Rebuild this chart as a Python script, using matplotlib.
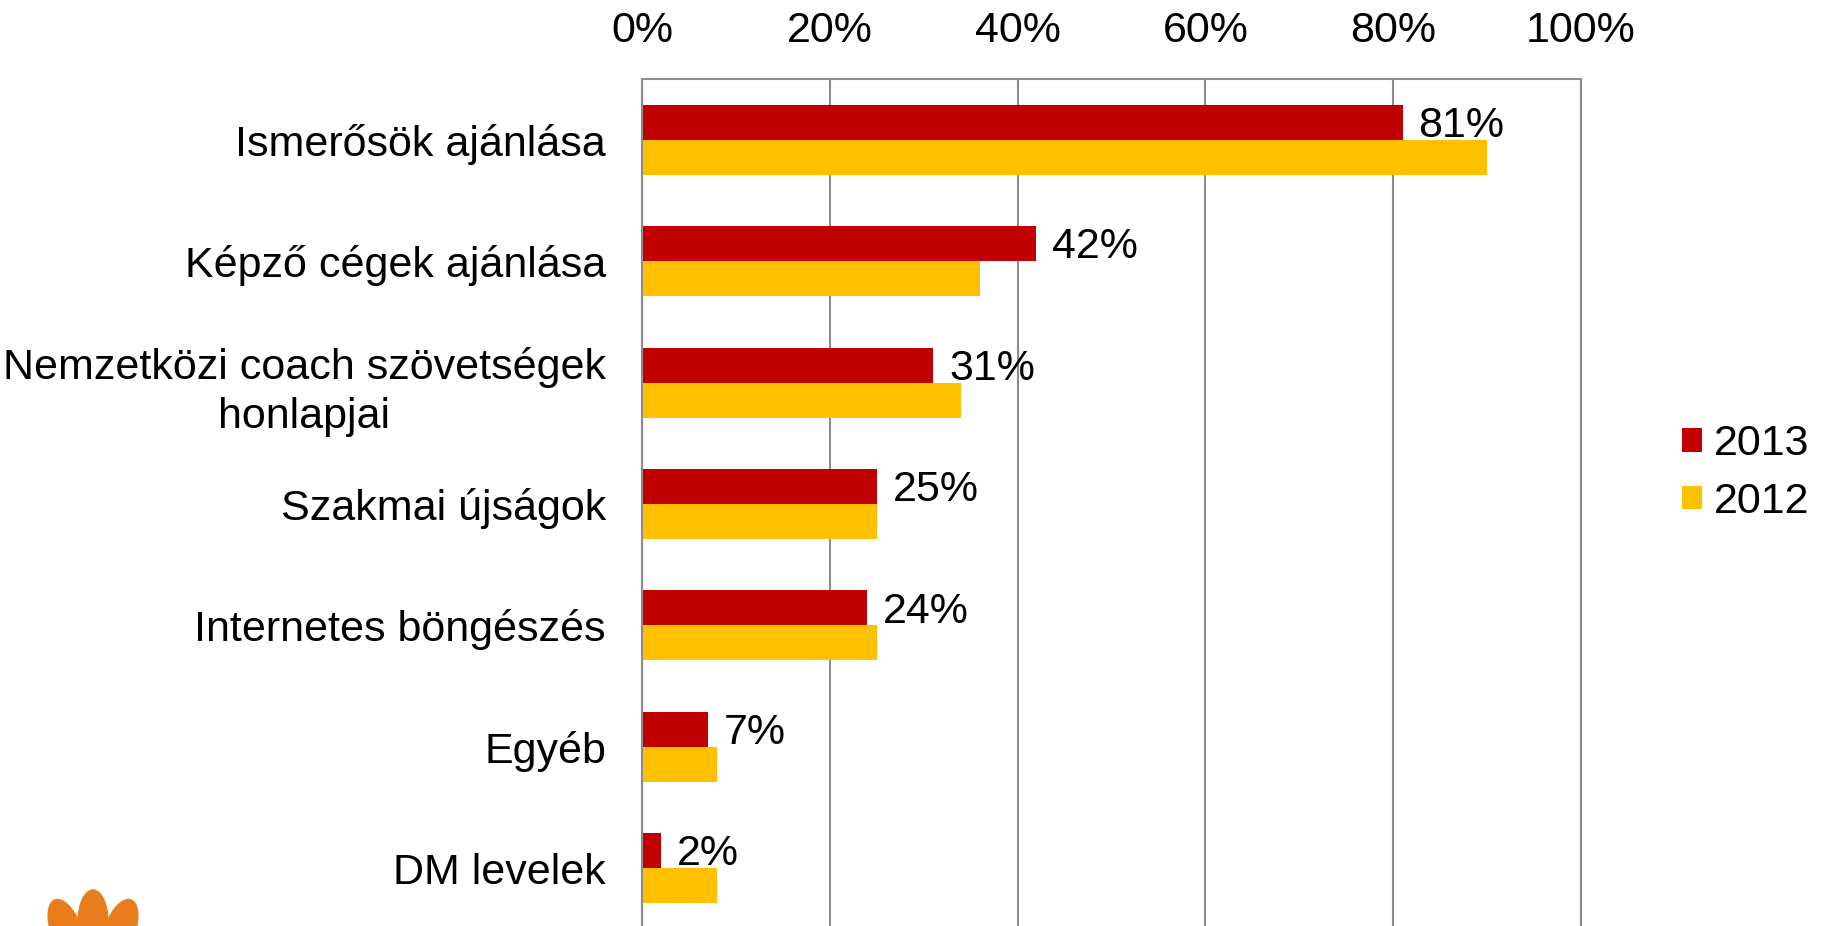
import matplotlib.pyplot as plt
from matplotlib.patches import Ellipse
import numpy as np

plt.rcParams['font.family'] = ['Liberation Sans', 'DejaVu Sans']

# --- data ---
categories = ['Ismerősök ajánlása', 'Képző cégek ajánlása',
              'Nemzetközi coach szövetségek\nhonlapjai', 'Szakmai újságok',
              'Internetes böngészés', 'Egyéb', 'DM levelek']
values_2013 = [81, 42, 31, 25, 24, 7, 2]
values_2012 = [90, 36, 34, 25, 25, 8, 8]
series_names = ['2013', '2012']
x_ticks = [0, 20, 40, 60, 80, 100]

RED = '#C00000'
YELLOW = '#FFC000'
GRID = '#8c8c8c'
FS = 31

W, H = 1825, 926
fig = plt.figure(figsize=(W / 100, H / 100), dpi=100)
ax = fig.add_axes([642 / W, 1 - 929 / H, (1581 - 642) / W, (929 - 79) / H])

y = np.arange(len(categories))
h = 0.288
b13 = ax.barh(y - h / 2, values_2013, height=h, color=RED, label=series_names[0])
b12 = ax.barh(y + h / 2, values_2012, height=h, color=YELLOW, label=series_names[1])

for yi, v in zip(y, values_2013):
    ax.text(v + 1.7, yi - h / 2 + 0.03, f'{v}%', va='center', ha='left', fontsize=FS)

ax.set_xlim(0, 100)
ax.set_ylim(len(categories) - 0.5, -0.5)
ax.set_xticks(x_ticks)
ax.set_xticklabels([f'{t}%' for t in x_ticks])
ax.xaxis.tick_top()
ax.tick_params(axis='x', length=0, pad=20, labelsize=FS)
ax.set_yticks(y)
ax.set_yticklabels(categories, multialignment='center', linespacing=1.3)
ax.tick_params(axis='y', length=0, pad=26, labelsize=FS)

ax.grid(axis='x', color=GRID, linewidth=1.5)
ax.set_axisbelow(True)
for side in ['top', 'left', 'right']:
    ax.spines[side].set_color(GRID)
    ax.spines[side].set_linewidth(1.5)
ax.spines['bottom'].set_visible(False)

fig.legend(handles=[b13, b12], loc='center left', bbox_to_anchor=(1682 / W, 1 - 473 / H),
           frameon=False, fontsize=FS, handlelength=0.46, handleheight=0.46,
           handletextpad=0.27, labelspacing=0.4, borderpad=0, borderaxespad=0)

# logo petals, bottom left
for cx, cy, ang in [(66, 930, 20), (93, 922, 0), (120, 930, -20)]:
    fig.add_artist(Ellipse((cx, H - cy), 30, 64, angle=ang, color='#E87D1E',
                           transform=None))

fig.savefig('out.png', dpi=100)
